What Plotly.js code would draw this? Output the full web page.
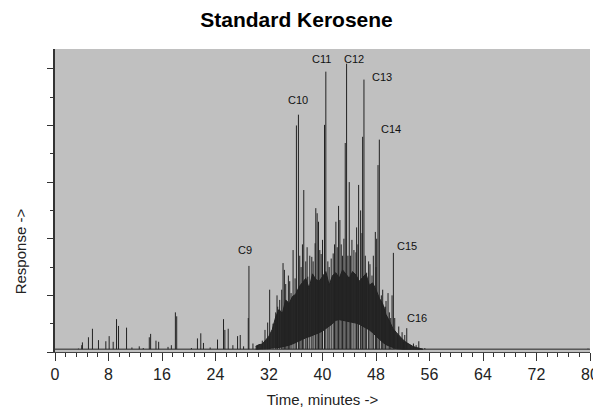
<!DOCTYPE html>
<html>
<head>
<meta charset="utf-8">
<script src="https://cdn.plot.ly/plotly-3.0.1.min.js"></script>
<style>html,body{margin:0;padding:0;background:#fff;}#chart{width:593px;height:412px;}</style>
</head>
<body>
<div id="chart"></div>
<script>
// ---- data ----
const baselineLevel = 0.05;
const baseT = [0, 80];
const baseY = [0.05, 0.05];

// resolved peaks: retention time (min) and apex response
const peakT = [3.5,4.0,4.1,5.0,5.6,6.5,7.6,8.1,8.7,9.2,9.5,10.7,11.5,12.6,13.2,14.1,14.3,15.1,15.5,16.9,17.4,18.0,18.2,20.4,21.3,21.8,22.2,23.2,24.3,25.2,25.4,25.9,26.6,27.3,27.7,28.2,28.9,29.0,29.6,30.3,31.0,31.4,31.8,32.1,32.6,33.0,33.3,33.6,33.9,34.1,34.3,34.7,35.3,35.6,35.9,36.1,36.4,36.8,37.2,37.5,37.8,38.1,38.4,38.9,39.0,39.2,39.4,39.8,40.0,40.3,40.5,41.0,41.3,41.6,42.0,42.4,42.6,43.0,43.4,43.6,44.0,44.2,44.4,45.0,45.1,45.4,45.7,46.0,46.2,46.6,46.9,47.4,47.9,48.1,48.3,48.5,48.8,49.2,49.5,49.8,50.2,50.4,50.6,51.2,51.6,52.1,52.6,53.2,54.4,55.3,79.7,
  33.2,34.5,34.9,35.1,36.6,37.0,37.7,38.6,39.6,40.8,41.8,42.2,42.8,43.2,43.8,44.7,45.3,45.9,46.4,47.1,47.6,48.0,49.0,49.4,50.0,50.8,51.4,51.9,52.3,53.6,54.0];
const peakH = [0.06,0.12,0.17,0.26,0.41,0.21,0.19,0.28,0.18,0.58,0.46,0.43,0.08,0.10,0.07,0.26,0.32,0.20,0.18,0.09,0.12,0.70,0.63,0.07,0.24,0.33,0.16,0.08,0.22,0.58,0.39,0.41,0.12,0.28,0.30,0.10,0.60,1.52,0.15,0.12,0.20,0.39,0.52,1.10,0.50,0.70,0.80,0.92,1.10,1.57,1.45,0.90,1.04,1.80,1.30,4.00,4.19,1.50,2.86,1.60,1.33,1.70,1.68,1.92,2.54,2.45,2.30,1.73,1.98,4.01,4.95,1.50,1.65,1.74,2.30,2.58,2.33,1.70,3.69,5.09,3.00,1.70,1.98,1.76,2.20,2.95,2.50,3.80,4.81,1.40,1.60,1.35,2.12,2.00,3.30,3.75,1.00,0.80,0.90,1.04,0.60,1.00,1.75,0.30,0.25,0.18,0.42,0.12,0.19,0.07,0.06,
  1.00,1.20,1.35,1.25,1.70,1.90,1.85,1.60,1.80,1.60,1.90,1.85,1.90,2.00,1.70,1.80,1.90,2.10,1.70,1.55,1.70,1.50,1.10,0.80,0.70,0.60,0.45,0.35,0.30,0.15,0.12];

// unresolved complex mixture hump: lower and upper edge of the dark band
const humpT  = [30,30.5,31,31.5,32,32.5,33,33.5,34,34.5,35,35.5,36,36.5,37,37.5,38,38.5,39,39.5,40,40.5,41,41.5,42,42.5,43,43.5,44,44.5,45,45.5,46,46.5,47,47.5,48,48.5,49,49.5,50,50.5,51,51.5,52,52.5,53,53.5,54,54.5,55];
const humpLo = [0.05,0.05,0.05,0.06,0.06,0.07,0.07,0.08,0.09,0.10,0.12,0.14,0.17,0.20,0.22,0.25,0.27,0.29,0.31,0.34,0.37,0.41,0.45,0.50,0.56,0.57,0.56,0.55,0.54,0.53,0.51,0.49,0.46,0.43,0.39,0.34,0.28,0.22,0.17,0.13,0.10,0.08,0.06,0.05,0.05,0.05,0.05,0.05,0.05,0.05,0.05];
const humpHi = [0.10,0.13,0.14,0.22,0.28,0.40,0.62,0.75,0.68,0.92,0.85,0.98,1.02,1.15,1.22,1.30,1.12,1.38,1.28,1.25,1.33,1.42,1.18,1.35,1.40,1.30,1.45,1.38,1.30,1.42,1.36,1.25,1.32,1.38,1.18,1.22,1.10,0.95,0.85,0.66,0.55,0.42,0.35,0.28,0.22,0.17,0.13,0.10,0.08,0.06,0.05];

// peak labels
const labelText = ['C9','C10','C11','C12','C13','C14','C15','C16'];
const labelT    = [28.4, 36.3, 39.9, 44.7, 48.9, 50.2, 52.7, 54.1];
const labelY    = [1.80, 4.45, 5.18, 5.18, 4.85, 3.94, 1.87, 0.60];

const xTicks = [0,8,16,24,32,40,48,56,64,72,80];

// ---- build traces ----
const sx = [], sy = [];
for (let i = 0; i < peakT.length; i++) {
  sx.push(peakT[i], peakT[i], null);
  sy.push(baselineLevel, peakH[i], null);
}
const ink = '#222222';
const font = 'Liberation Sans, Arial, sans-serif';

const traces = [
  {x: baseT, y: baseY, mode: 'lines', line: {color: ink, width: 1}, hoverinfo: 'skip'},
  {x: humpT, y: humpLo, mode: 'lines', line: {color: ink, width: 1}, hoverinfo: 'skip'},
  {x: humpT, y: humpHi, mode: 'lines', fill: 'tonexty', fillcolor: '#2a2a2a', line: {color: ink, width: 1}, hoverinfo: 'skip'},
  {x: sx, y: sy, mode: 'lines', line: {color: ink, width: 1}, connectgaps: false, hoverinfo: 'skip'}
];

const annotations = labelText.map((t, i) => ({
  x: labelT[i], y: labelY[i], xref: 'x', yref: 'y', text: t, showarrow: false,
  font: {family: font, size: 11, color: '#111'}, xanchor: 'center', yanchor: 'middle'
}));
annotations.push({
  xref: 'paper', yref: 'paper', x: -0.065, y: 0.333, text: 'Response ->', textangle: -90,
  showarrow: false, font: {family: font, size: 15, color: '#222'}, xanchor: 'center', yanchor: 'middle'
});

const layout = {
  width: 593, height: 412,
  margin: {l: 55, r: 3, t: 49, b: 60},
  paper_bgcolor: '#ffffff', plot_bgcolor: '#c0c0c0',
  showlegend: false,
  title: {text: '<b>Standard Kerosene</b>', font: {family: font, size: 21, color: '#000'},
          xref: 'container', x: 0.5, xanchor: 'center', yref: 'container', y: 0.952, yanchor: 'middle'},
  xaxis: {
    range: [0, 80], tickvals: xTicks, ticktext: xTicks.map(String),
    ticks: 'outside', ticklen: 8, tickcolor: '#333', tickwidth: 1,
    ticklabeloverflow: 'allow',
    showline: true, linecolor: '#444', linewidth: 1, mirror: false,
    showgrid: false, zeroline: false,
    minor: {dtick: 1.6, tick0: 0, ticks: 'outside', ticklen: 4, tickcolor: '#333', showgrid: false},
    tickfont: {family: font, size: 16, color: '#222'},
    title: {text: 'Time, minutes ->', font: {family: font, size: 15, color: '#222'}, standoff: 12}
  },
  yaxis: {
    range: [0, 5.35], dtick: 1, tick0: 0,
    ticks: 'outside', ticklen: 6, tickcolor: '#333', tickwidth: 1,
    showticklabels: false,
    showline: true, linecolor: '#333', linewidth: 2,
    showgrid: false, zeroline: false,
    minor: {dtick: 0.5, ticks: 'outside', ticklen: 3, tickcolor: '#333', showgrid: false}
  },
  annotations: annotations
};

Plotly.newPlot('chart', traces, layout, {staticPlot: true, displayModeBar: false});
</script>
</body>
</html>
